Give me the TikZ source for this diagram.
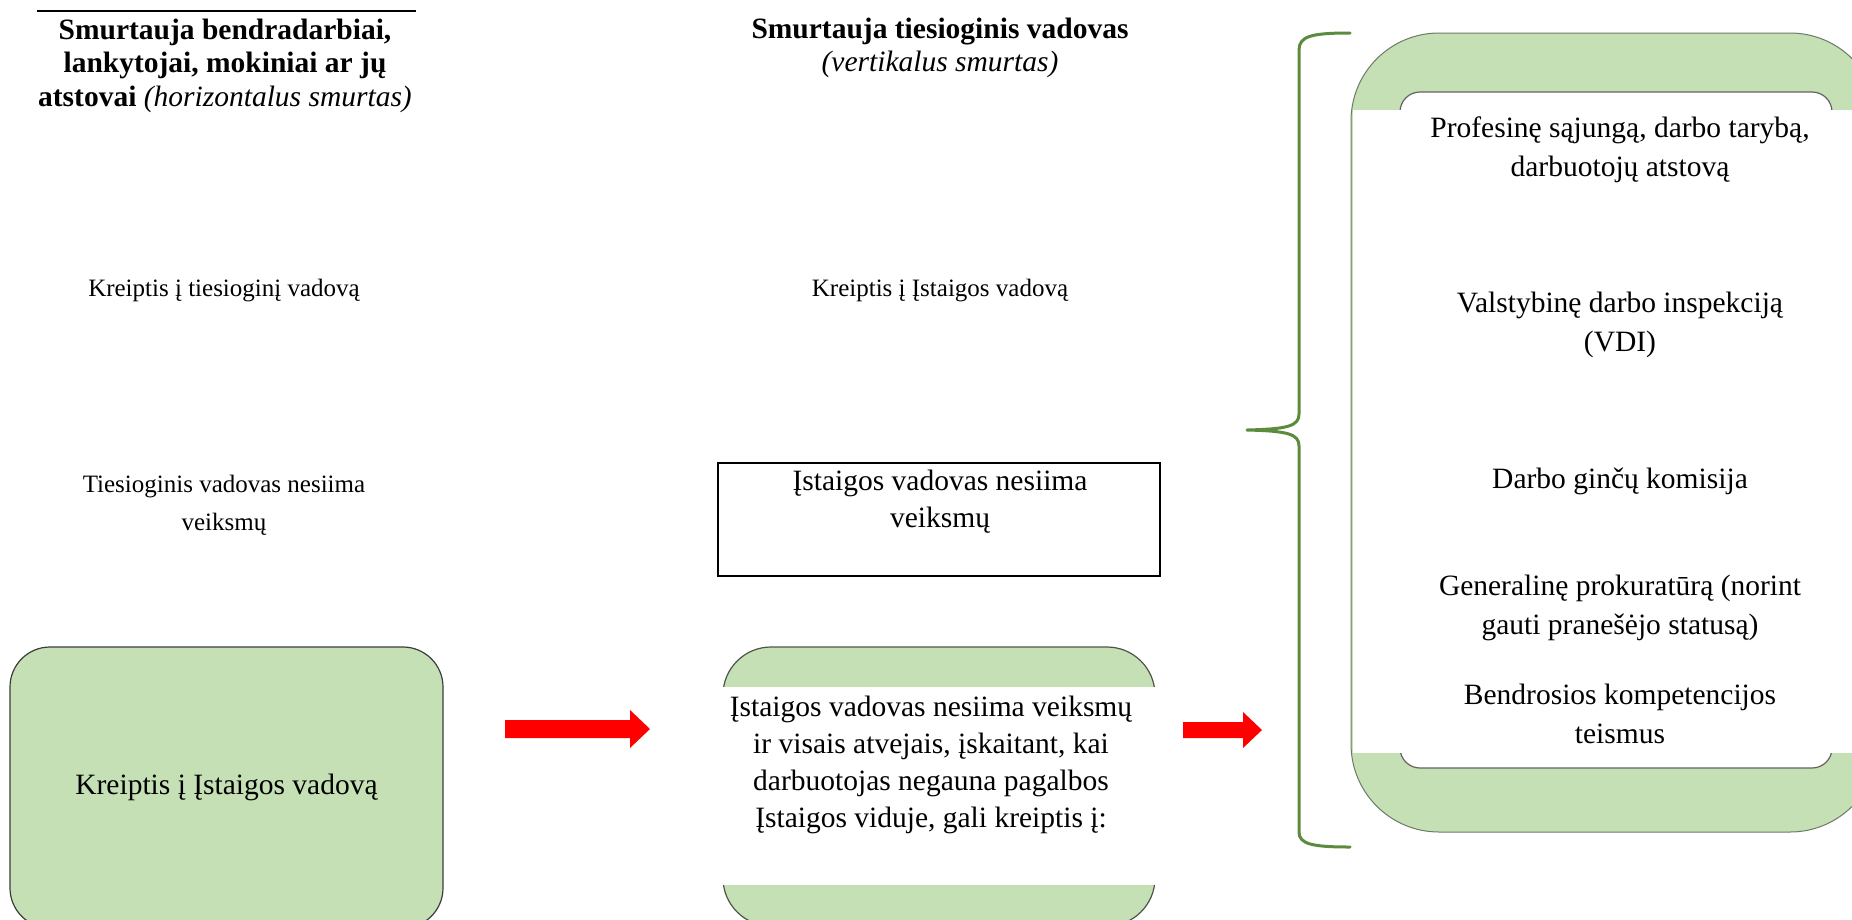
\documentclass[tikz,border=0pt]{standalone}
\usepackage{fontspec}
\setmainfont{Liberation Serif}
\newcommand\fbody{\fontsize{29.5}{37}\selectfont}
\newcommand\fright{\fontsize{29.5}{39}\selectfont}
\newcommand\ftitle{\fontsize{29.5}{33.5}\selectfont}
\newcommand\fsmall{\fontsize{25}{38}\selectfont}
\definecolor{boxgreen}{HTML}{C5E0B4}
\definecolor{bracegreen}{HTML}{5B8C3E}
\definecolor{arrowred}{HTML}{FF0000}
\definecolor{edgegray}{HTML}{3C3C3C}
\definecolor{softgray}{HTML}{6E7A68}
\begin{document}
\begin{tikzpicture}[x=1pt,y=-1pt,
  txt/.style={inner sep=0pt, align=center, text=black},
  greenbox/.style={draw=edgegray, line width=1.2pt, fill=boxgreen, inner sep=0pt},
  band/.style={fill=white, draw=none, inner sep=0pt},
  redarr/.style={fill=arrowred, draw=none},
  bracestyle/.style={draw=bracegreen, line width=3pt, line cap=round, line join=round}]
\useasboundingbox (0,0) rectangle (1852,919);
\clip (0,0) rectangle (1852,919);
\fill[white] (0,0) rectangle (1852,919);

% left column
\draw[line width=2pt] (37,11) -- (416,11);
\node[txt, font=\ftitle] (t1) at (225,66) {\strut\textbf{Smurtauja bendradarbiai,}\\\strut\textbf{lankytojai, mokiniai ar jų}\\\strut\textbf{atstovai} \textit{(horizontalus smurtas)}};
\node[txt, font=\fsmall] (l1) at (224,289) {\strut Kreiptis į tiesioginį vadovą};
\node[txt, font=\fsmall] (l2) at (224,504) {\strut Tiesioginis vadovas nesiima\\\strut veiksmų};
\node[greenbox, rounded corners=40pt, minimum width=433pt, minimum height=281pt, font=\fbody] (lbox) at (226.5,787.5) {Kreiptis į Įstaigos vadovą};

% middle column
\node[txt, font=\ftitle] (t2) at (940,48.3) {\strut\textbf{Smurtauja tiesioginis vadovas}\\\strut\textit{(vertikalus smurtas)}};
\node[txt, font=\fsmall] (m1) at (940,289) {\strut Kreiptis į Įstaigos vadovą};
\node[draw=black, line width=2pt, minimum width=442pt, minimum height=113pt, inner sep=0pt] (mrect) at (939,519.5) {};
\node[txt, font=\fbody] (mrtxt) at (940,501.5) {\strut Įstaigos vadovas nesiima\\\strut veiksmų};
\node[greenbox, draw=softgray!70!black, rounded corners=48pt, minimum width=432pt, minimum height=279pt] (mbox) at (939,786.5) {};
\node[band, minimum width=437pt, minimum height=198pt] (mband) at (939,786) {};
\node[txt, font=\fbody] (mtxt) at (931,765) {\strut Įstaigos vadovas nesiima veiksmų\\\strut ir visais atvejais, įskaitant, kai\\\strut darbuotojas negauna pagalbos\\\strut Įstaigos viduje, gali kreiptis į:};

% arrows
\fill[redarr] (505,720) -- (630,720) -- (630,710) -- (650,729) -- (630,748) -- (630,738) -- (505,738) -- cycle;
\fill[redarr] (1183,722) -- (1243,722) -- (1243,712) -- (1262,730) -- (1243,748) -- (1243,738) -- (1183,738) -- cycle;

% brace
\draw[bracestyle] (1350,33) .. controls (1312,33) and (1299,36) .. (1299,50)
  -- (1299,414) .. controls (1299,426) and (1288,429) .. (1247,430)
  .. controls (1288,431) and (1299,434) .. (1299,446)
  -- (1299,832) .. controls (1299,844) and (1312,847) .. (1350,847);

% right panel
\node[draw=softgray, line width=1pt, fill=boxgreen, rounded corners=88pt, minimum width=527pt, minimum height=799pt, inner sep=0pt] (rout) at (1614.5,432.5) {};
\node[draw=edgegray!80, line width=1.2pt, fill=white, rounded corners=20pt, minimum width=432pt, minimum height=676pt, inner sep=0pt] (rin) at (1616,430) {};
\node[band, minimum width=528pt, minimum height=643pt] (rband) at (1616.5,431.5) {};
\node[txt, font=\fright] (r1) at (1620,149.5) {\strut Profesinę sąjungą, darbo tarybą,\\\strut darbuotojų atstovą};
\node[txt, font=\fright] (r2) at (1620,324.5) {\strut Valstybinę darbo inspekciją\\\strut (VDI)};
\node[txt, font=\fright] (r3) at (1620,481) {\strut Darbo ginčų komisija};
\node[txt, font=\fright] (r4) at (1620,607.5) {\strut Generalinę prokuratūrą (norint\\\strut gauti pranešėjo statusą)};
\node[txt, font=\fright] (r5) at (1620,716) {\strut Bendrosios kompetencijos\\\strut teismus};
\end{tikzpicture}
\end{document}
